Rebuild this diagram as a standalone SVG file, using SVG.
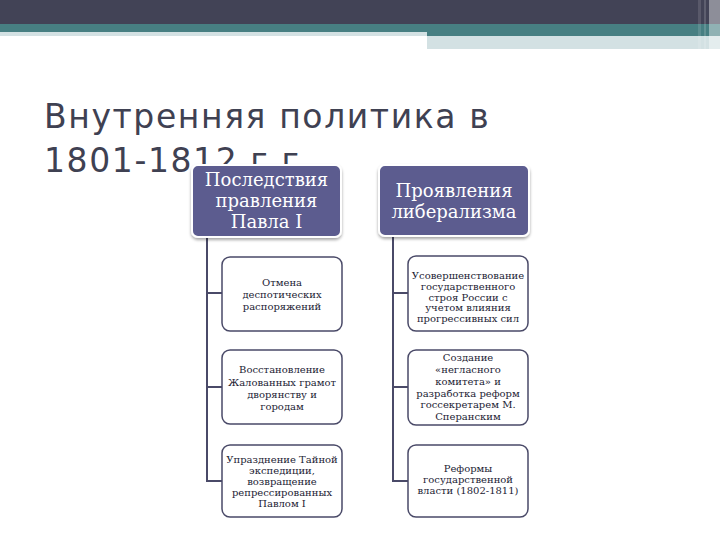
<svg xmlns="http://www.w3.org/2000/svg" width="720" height="540" viewBox="0 0 720 540">
<defs>
<filter id="sh" x="-10%" y="-10%" width="120%" height="130%">
<feDropShadow dx="0" dy="2" stdDeviation="1.5" flood-color="#000" flood-opacity="0.35"/>
</filter>
<style>
.title{font-family:"DejaVu Sans",Verdana,sans-serif;font-size:33px;letter-spacing:1.6px;fill:#3f4152}
.hdr rect{fill:#5b5b8f;stroke:#ffffff;stroke-width:2}
.hdr text{font-family:"DejaVu Serif","Liberation Serif",serif;font-size:18px;fill:#ffffff;text-anchor:middle}
.child rect{fill:#ffffff;stroke:#4a4a68;stroke-width:1.5}
.child text{font-family:"DejaVu Serif","Liberation Serif",serif;font-size:10px;fill:#222233;text-anchor:middle}
.conn{stroke:#4a4a68;stroke-width:2;fill:none}
</style>
</defs>
<rect width="720" height="540" fill="#ffffff"/>
<g id="banner">
<rect x="0" y="0" width="720" height="24" fill="#424356"/>
<rect x="0" y="24" width="720" height="8" fill="#477f82"/>
<rect x="427" y="32" width="293" height="4" fill="#477f82"/>
<rect x="0" y="32" width="427" height="4" fill="#d3e1e3"/>
<rect x="427" y="36" width="293" height="13" fill="#d3e1e3"/>
<rect x="698" y="0" width="3" height="49" fill="#ffffff" opacity="0.12"/>
<rect x="704" y="0" width="2" height="49" fill="#ffffff" opacity="0.15"/>
<rect x="709" y="0" width="11" height="49" fill="#ffffff" opacity="0.4"/>
</g>
<g id="title">
<text class="title" x="44" y="128">Внутренняя политика в</text>
<text class="title" x="44" y="172">1801-1812 г.г.</text>
</g>
<g id="connectors">
<path class="conn" d="M207 236 V481 H222 M207 293 H222 M207 387 H222"/>
<path class="conn" d="M393 235 V481 H408 M393 293 H408 M393 387 H408"/>
</g>
<g id="h1" class="hdr">
<rect x="192" y="165" width="149" height="72" rx="6" filter="url(#sh)"/>
<text x="266.5" y="186">Последствия</text>
<text x="266.5" y="207">правления</text>
<text x="266.5" y="228">Павла I</text>
</g>
<g id="h2" class="hdr">
<rect x="379" y="165" width="150" height="71" rx="6" filter="url(#sh)"/>
<text x="454" y="197">Проявления</text>
<text x="454" y="218">либерализма</text>
</g>
<g id="l1" class="child">
<rect x="222" y="257" width="120" height="74" rx="8"/>
<text x="282" y="286">Отмена</text>
<text x="282" y="298">деспотических</text>
<text x="282" y="310">распоряжений</text>
</g>
<g id="l2" class="child">
<rect x="222" y="350" width="120" height="74" rx="8"/>
<text x="282" y="373">Восстановление</text>
<text x="282" y="386">Жалованных грамот</text>
<text x="282" y="398">дворянству и</text>
<text x="282" y="410">городам</text>
</g>
<g id="l3" class="child">
<rect x="222" y="445" width="120" height="72" rx="8"/>
<text x="282" y="463">Упразднение Тайной</text>
<text x="282" y="474">экспедиции,</text>
<text x="282" y="485">возвращение</text>
<text x="282" y="496">репрессированных</text>
<text x="282" y="507">Павлом I</text>
</g>
<g id="r1" class="child">
<rect x="408" y="256" width="120" height="75" rx="8"/>
<text x="468" y="279">Усовершенствование</text>
<text x="468" y="290">государственного</text>
<text x="468" y="300.5">строя России с</text>
<text x="468" y="311">учетом влияния</text>
<text x="468" y="322">прогрессивных сил</text>
</g>
<g id="r2" class="child">
<rect x="408" y="350" width="120" height="75" rx="8"/>
<text x="468" y="361">Создание</text>
<text x="468" y="373">«негласного</text>
<text x="468" y="385">комитета» и</text>
<text x="468" y="397">разработка реформ</text>
<text x="468" y="408">госсекретарем М.</text>
<text x="468" y="420">Сперанским</text>
</g>
<g id="r3" class="child">
<rect x="408" y="445" width="120" height="72" rx="8"/>
<text x="468" y="472">Реформы</text>
<text x="468" y="483">государственной</text>
<text x="468" y="494">власти (1802-1811)</text>
</g>
</svg>
